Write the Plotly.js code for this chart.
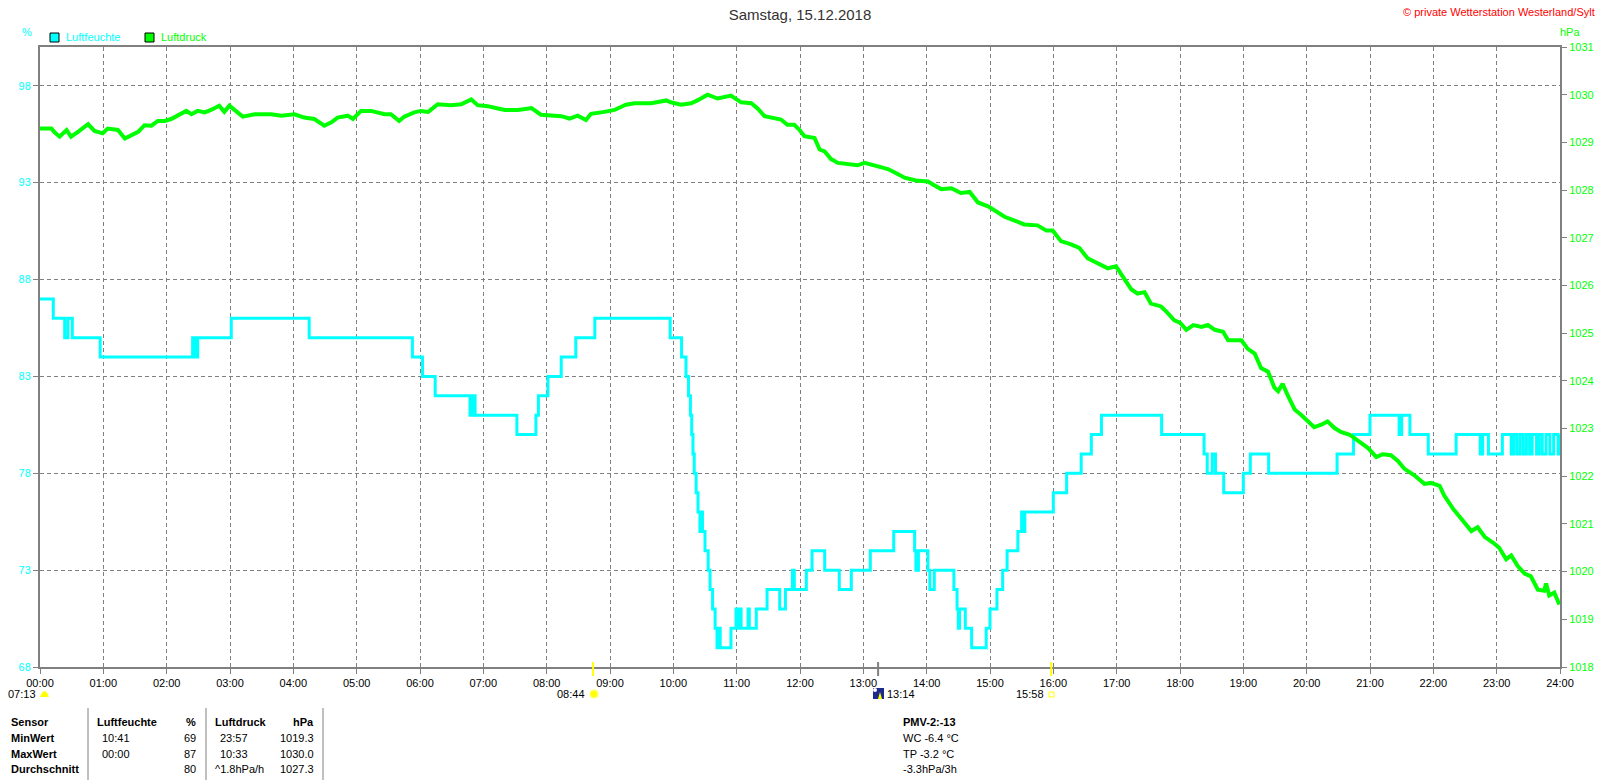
<!DOCTYPE html>
<html>
<head>
<meta charset="utf-8">
<script src="https://cdn.plot.ly/plotly-3.0.1.min.js"></script>
<style>
  html, body { margin: 0; padding: 0; background: #fff; }
  #chart { width: 1600px; height: 780px; }
</style>
</head>
<body>
<div id="chart"></div>
<script>
// x axis: hours of the day
var hourLabels = ['00:00','01:00','02:00','03:00','04:00','05:00','06:00','07:00','08:00',
    '09:00','10:00','11:00','12:00','13:00','14:00','15:00','16:00','17:00','18:00',
    '19:00','20:00','21:00','22:00','23:00','24:00'];
var hourTicks = [0,1,2,3,4,5,6,7,8,9,10,11,12,13,14,15,16,17,18,19,20,21,22,23,24];

// Luftfeuchte (%), step changes: time in hours, value
var humTimes = [0.00,0.21,0.39,0.44,0.51,0.95,2.41,2.45,2.49,3.02,4.25,5.88,6.04,6.24,6.79,6.83,6.87,
    7.53,7.83,7.87,8.02,8.23,8.46,8.76,9.95,10.13,10.20,10.24,10.27,10.29,10.31,10.33,10.36,10.39,
    10.42,10.44,10.46,10.50,10.55,10.58,10.62,10.66,10.69,10.71,10.74,10.91,10.99,11.02,11.04,11.07,
    11.18,11.20,11.31,11.48,11.68,11.77,11.88,11.91,12.10,12.19,12.39,12.62,12.81,13.11,13.48,13.81,
    13.83,13.87,14.02,14.05,14.12,14.43,14.48,14.50,14.52,14.61,14.71,14.94,15.00,15.11,15.20,15.27,
    15.44,15.50,15.52,15.55,16.00,16.21,16.44,16.60,16.76,17.71,18.38,18.43,18.51,18.56,18.69,19.00,
    19.11,19.40,20.48,20.74,21.00,21.46,21.50,21.63,21.92,22.36,22.74,22.78,22.87,23.09,23.23,23.27,
    23.32,23.37,23.42,23.47,23.52,23.56,23.63,23.67,23.72,23.78,23.84,23.90,23.97,24.00];
var humValues = [87,86,85,86,85,84,85,84,85,86,85,84,83,82,81,82,81,
    80,81,82,83,84,85,86,85,84,83,82,81,80,79,78,77,76,
    75,76,75,74,73,72,71,70,69,70,69,70,71,70,71,70,
    71,70,71,72,71,72,73,72,73,74,73,72,73,74,75,74,
    73,74,73,72,73,72,71,70,71,70,69,70,71,72,73,74,
    75,76,75,76,77,78,79,80,81,80,79,78,79,78,77,78,
    79,78,79,80,81,80,81,80,79,80,79,80,79,80,79,80,
    79,80,79,80,79,80,79,80,79,80,79,80,79,80];

// Luftdruck (hPa)
var presTimes = [0.00,0.18,0.23,0.31,0.42,0.49,0.60,0.76,0.86,0.99,1.07,1.23,1.34,1.44,1.55,1.65,
    1.76,1.86,1.97,2.07,2.18,2.31,2.39,2.49,2.60,2.70,2.83,2.91,2.99,3.12,3.20,3.39,3.65,3.81,4.02,
    4.17,4.33,4.49,4.60,4.70,4.86,4.94,5.07,5.23,5.33,5.44,5.54,5.67,5.75,5.91,6.01,6.13,6.28,6.49,
    6.65,6.81,6.91,7.07,7.23,7.34,7.55,7.76,7.91,8.07,8.23,8.36,8.49,8.62,8.70,8.91,9.07,9.25,9.39,
    9.65,9.89,9.96,10.12,10.28,10.38,10.54,10.70,10.91,11.07,11.23,11.33,11.44,11.54,11.70,11.80,
    11.91,12.00,12.07,12.23,12.31,12.39,12.49,12.60,12.76,12.91,13.02,13.23,13.39,13.55,13.65,13.83,
    14.02,14.12,14.23,14.39,14.54,14.68,14.81,14.97,15.12,15.23,15.39,15.54,15.75,15.89,15.99,16.12,
    16.28,16.41,16.54,16.70,16.86,16.99,17.09,17.23,17.33,17.44,17.54,17.70,17.80,17.91,18.00,18.10,
    18.21,18.34,18.44,18.55,18.68,18.76,18.97,19.07,19.18,19.28,19.39,19.49,19.55,19.62,19.70,19.81,
    19.91,20.02,20.12,20.23,20.33,20.44,20.54,20.68,20.81,20.97,21.10,21.20,21.33,21.44,21.54,21.70,
    21.86,21.96,22.10,22.17,22.31,22.44,22.60,22.70,22.81,22.94,23.04,23.15,23.23,23.33,23.44,23.54,
    23.65,23.75,23.78,23.83,23.91,23.99];
var presValues = [1029.29,1029.29,1029.21,1029.12,1029.26,1029.12,1029.22,1029.38,1029.24,1029.19,
    1029.29,1029.26,1029.08,1029.14,1029.22,1029.36,1029.35,1029.45,1029.45,1029.49,1029.56,1029.66,
    1029.59,1029.66,1029.63,1029.68,1029.77,1029.64,1029.77,1029.63,1029.54,1029.59,1029.59,1029.56,
    1029.59,1029.52,1029.49,1029.35,1029.42,1029.52,1029.56,1029.49,1029.66,1029.66,1029.63,1029.59,
    1029.59,1029.45,1029.54,1029.63,1029.66,1029.64,1029.80,1029.78,1029.80,1029.90,1029.78,1029.76,
    1029.71,1029.68,1029.68,1029.72,1029.58,1029.56,1029.55,1029.50,1029.56,1029.47,1029.60,1029.64,
    1029.68,1029.79,1029.82,1029.82,1029.88,1029.84,1029.79,1029.82,1029.88,1030.00,1029.92,1029.98,
    1029.84,1029.82,1029.71,1029.55,1029.52,1029.48,1029.37,1029.37,1029.25,1029.13,1029.09,1028.85,
    1028.81,1028.65,1028.57,1028.55,1028.52,1028.57,1028.49,1028.44,1028.33,1028.26,1028.20,1028.18,
    1028.10,1028.02,1028.04,1027.94,1027.96,1027.74,1027.66,1027.52,1027.44,1027.36,1027.28,1027.26,
    1027.15,1027.15,1026.93,1026.86,1026.79,1026.57,1026.46,1026.36,1026.40,1026.20,1025.92,1025.83,
    1025.86,1025.62,1025.56,1025.43,1025.27,1025.22,1025.07,1025.17,1025.13,1025.17,1025.07,1025.03,
    1024.85,1024.85,1024.67,1024.57,1024.27,1024.19,1023.86,1023.78,1023.94,1023.70,1023.40,1023.29,
    1023.16,1023.03,1023.08,1023.15,1023.01,1022.93,1022.87,1022.74,1022.59,1022.40,1022.46,1022.44,
    1022.32,1022.16,1022.02,1021.84,1021.86,1021.80,1021.60,1021.32,1021.10,1020.85,1020.93,1020.73,
    1020.61,1020.50,1020.26,1020.34,1020.12,1019.96,1019.90,1019.62,1019.60,1019.75,1019.50,1019.56,
    1019.31];

// sun / moon events below the time axis
var eventTimes = [8.733, 13.233, 15.967];
var eventColors = ['#ffff00', '#808080', '#ffff00'];

// statistics table
var tableHeader = ['Sensor', 'Luftfeuchte', '%', 'Luftdruck', 'hPa'];
var tableRows = ['MinWert', 'MaxWert', 'Durchschnitt'];
var humTimeCol = ['10:41', '00:00', ''];
var humValCol = ['69', '87', '80'];
var presTimeCol = ['23:57', '10:33', '^1.8hPa/h'];
var presValCol = ['1019.3', '1030.0', '1027.3'];
var pmvLines = ['PMV-2:-13', 'WC -6.4 °C', 'TP -3.2 °C', '-3.3hPa/3h'];

var W = 1600, H = 780, ML = 40, MR = 40, MT = 47, MB = 113;
var PW = W - ML - MR, PH = H - MT - MB;
function px(x) { return (x - ML) / PW; }
function py(y) { return (H - MB - y) / PH; }

var CYAN = '#00ffff', GREEN = '#00ff00', GREY = '#808080';
var FONT = 'Liberation Sans, Arial, sans-serif';

var annotations = [];
function note(text, x, y, anchor, color, size, bold) {
    annotations.push({
        text: bold ? '<b>' + text + '</b>' : text,
        xref: 'paper', yref: 'paper', x: px(x), y: py(y),
        xanchor: anchor, yanchor: 'middle', showarrow: false,
        font: { family: FONT, size: size || 11, color: color || '#000' }
    });
}

var shapes = [];

// legend
shapes.push({ type: 'rect', xref: 'paper', yref: 'paper', x0: px(50), x1: px(59), y0: py(42), y1: py(33),
    fillcolor: CYAN, line: { color: '#000', width: 1 } });
shapes.push({ type: 'rect', xref: 'paper', yref: 'paper', x0: px(145), x1: px(154), y0: py(42), y1: py(33),
    fillcolor: GREEN, line: { color: '#000', width: 1 } });
note('Luftfeuchte', 64, 37.5, 'left', CYAN, 11);
note('Luftdruck', 159, 37.5, 'left', GREEN, 11);
note('%', 27, 32, 'center', CYAN, 11);
note('hPa', 1570, 32, 'center', GREEN, 11);
note('© private Wetterstation Westerland/Sylt', 1597, 12, 'right', '#ff0000', 11);

// event ticks on the time axis
eventTimes.forEach(function (t, i) {
    shapes.push({ type: 'line', xref: 'x', yref: 'paper', x0: t, x1: t, y0: py(676), y1: py(662),
        line: { color: eventColors[i], width: 2 } });
});

// event icons and times
note('07:13', 38, 694, 'right', '#000', 11);
shapes.push({ type: 'path', xref: 'paper', yref: 'paper',
    path: 'M ' + px(40) + ',' + py(697) + ' Q ' + px(44.5) + ',' + py(685) + ' ' + px(49) + ',' + py(697) + ' Z',
    fillcolor: '#ffff00', line: { width: 0 } });
note('08:44', 587, 694, 'right', '#000', 11);
shapes.push({ type: 'circle', xref: 'paper', yref: 'paper', x0: px(590), x1: px(598), y0: py(698), y1: py(690),
    fillcolor: '#ffff00', line: { color: '#ffff80', width: 1.5 } });
shapes.push({ type: 'rect', xref: 'paper', yref: 'paper', x0: px(873), x1: px(884), y0: py(699), y1: py(688),
    fillcolor: '#1c2a8c', line: { width: 0 } });
shapes.push({ type: 'path', xref: 'paper', yref: 'paper',
    path: 'M ' + px(878) + ',' + py(699) + ' L ' + px(880) + ',' + py(692) + ' L ' + px(882) + ',' + py(699) + ' Z',
    fillcolor: '#ffff00', line: { width: 0 } });
shapes.push({ type: 'circle', xref: 'paper', yref: 'paper', x0: px(873), x1: px(877), y0: py(692), y1: py(688),
    fillcolor: '#ffffff', line: { width: 0 } });
note('13:14', 885, 694, 'left', '#000', 11);
note('15:58', 1046, 694, 'right', '#000', 11);
shapes.push({ type: 'rect', xref: 'paper', yref: 'paper', x0: px(1049), x1: px(1054), y0: py(697), y1: py(692),
    fillcolor: 'rgba(0,0,0,0)', line: { color: '#ffff00', width: 1 } });

// statistics table
[88, 206, 323].forEach(function (x) {
    shapes.push({ type: 'line', xref: 'paper', yref: 'paper', x0: px(x), x1: px(x), y0: py(708), y1: py(780),
        line: { color: GREY, width: 1 } });
});
var rowY = [722, 738, 754, 769];
note(tableHeader[0], 9, rowY[0], 'left', '#000', 11, true);
note(tableHeader[1], 95, rowY[0], 'left', '#000', 11, true);
note(tableHeader[2], 198, rowY[0], 'right', '#000', 11, true);
note(tableHeader[3], 213, rowY[0], 'left', '#000', 11, true);
note(tableHeader[4], 316, rowY[0], 'right', '#000', 11, true);
tableRows.forEach(function (r, i) {
    var y = rowY[i + 1];
    note(r, 9, y, 'left', '#000', 11, true);
    if (humTimeCol[i]) note(humTimeCol[i], 100, y, 'left', '#000', 11);
    note(humValCol[i], 198, y, 'right', '#000', 11);
    note(presTimeCol[i], i === 2 ? 213 : 218, y, 'left', '#000', 11);
    note(presValCol[i], 316, y, 'right', '#000', 11);
});
pmvLines.forEach(function (t, i) {
    note(t, 901, rowY[i], 'left', '#000', 11, i === 0);
});

var traces = [{
    x: humTimes, y: humValues, type: 'scatter', mode: 'lines', name: 'Luftfeuchte',
    line: { color: CYAN, width: 3, shape: 'hv' }, yaxis: 'y'
}, {
    x: presTimes, y: presValues, type: 'scatter', mode: 'lines', name: 'Luftdruck',
    line: { color: GREEN, width: 4 }, yaxis: 'y2'
}];

var layout = {
    width: W, height: H,
    margin: { l: ML, r: MR, t: MT, b: MB, pad: 0 },
    paper_bgcolor: '#fff', plot_bgcolor: '#fff',
    showlegend: false,
    font: { family: FONT, size: 11, color: '#000' },
    title: {
        text: 'Samstag, 15.12.2018', x: 0.5, xanchor: 'center', y: 1 - 15 / H, yanchor: 'middle',
        font: { family: FONT, size: 15, color: '#333' }
    },
    xaxis: {
        range: [0, 24], tickvals: hourTicks, ticktext: hourLabels,
        showgrid: true, gridcolor: GREY, gridwidth: 1, griddash: '4px,3px',
        showline: true, linecolor: GREY, linewidth: 2, mirror: true,
        ticks: 'outside', ticklen: 5, tickcolor: GREY, tickwidth: 1,
        tickfont: { family: FONT, size: 11, color: '#000' }, zeroline: false
    },
    yaxis: {
        range: [68, 100], tickvals: [68, 73, 78, 83, 88, 93, 98],
        showgrid: true, gridcolor: GREY, gridwidth: 1, griddash: '4px,3px',
        showline: true, linecolor: GREY, linewidth: 2,
        ticks: 'outside', ticklen: 5, tickcolor: GREY, tickwidth: 1,
        tickfont: { family: FONT, size: 11, color: CYAN }, zeroline: false
    },
    yaxis2: {
        range: [1018, 1031], dtick: 1, overlaying: 'y', side: 'right',
        showgrid: false, showline: true, linecolor: GREY, linewidth: 2,
        ticks: 'outside', ticklen: 5, tickcolor: GREY, tickwidth: 1,
        tickfont: { family: FONT, size: 11, color: GREEN }, zeroline: false
    },
    shapes: shapes,
    annotations: annotations
};

Plotly.newPlot('chart', traces, layout, { staticPlot: true, displayModeBar: false });
</script>
</body>
</html>
